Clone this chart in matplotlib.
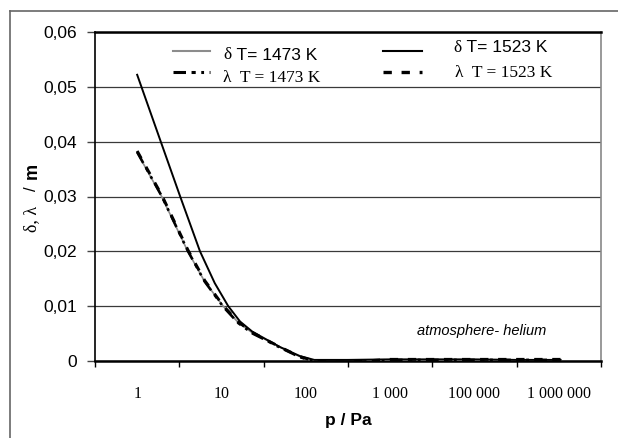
import matplotlib
matplotlib.use("Agg")
import matplotlib.pyplot as plt
from matplotlib.lines import Line2D
from matplotlib.ticker import FixedLocator, NullFormatter, FixedFormatter

plt.rcParams['font.family'] = ['Liberation Sans', 'DejaVu Sans']
plt.rcParams['lines.scale_dashes'] = False

# kategorie osi x (oś kategorii jak w Excelu, etykiety w środku przedziałów)
kategorie = ["1", "10", "100", "1 000", "100 000", "1 000 000"]

# krzywe (pozycja na osi kategorii, wartość w m)
u_1523 = [0.50, 0.78, 1.01, 1.245, 1.42, 1.58, 1.72, 1.87, 2.0, 2.2, 2.43, 2.6,
          3.0, 3.5, 4.0, 4.5, 5.0, 5.52]
delta_1523 = [0.0522, 0.040, 0.030, 0.020, 0.0142, 0.010, 0.0072, 0.0053, 0.0042,
              0.0025, 0.0009, 0.0002, 0.0002, 0.0003, 0.0003, 0.0003, 0.0002, 0.0002]

u_1473 = [0.50, 0.79, 1.10, 1.30, 1.52, 1.70, 1.87, 2.0, 2.2, 2.43, 2.6, 2.8,
          3.0, 3.3, 3.5, 4.0, 4.5, 5.0, 5.52]
delta_1473 = [0.0380, 0.030, 0.020, 0.0145, 0.010, 0.0070, 0.0051, 0.0041, 0.0025,
              0.0008, 0.0000, -0.0002, -0.0002, 0.0001, 0.0002, 0.0002, 0.0002, 0.0002, 0.0002]
lambda_1473 = [0.0381, 0.0301, 0.0201, 0.0145, 0.0099, 0.0069, 0.0050, 0.0040, 0.0024,
               0.0007, -0.0001, -0.0003, -0.0003, 0.0000, 0.0002, 0.0002, 0.0002, 0.0002, 0.0002]
lambda_1523 = [0.0383, 0.0303, 0.0203, 0.0147, 0.0101, 0.0071, 0.0052, 0.0041, 0.0025,
               0.0008, 0.0000, -0.0002, -0.0002, 0.0001, 0.0003, 0.0003, 0.0003, 0.0003, 0.0003]

W, H = 618, 438


def fx(px):
    return px / W


def fy(py):
    return 1 - py / H


fig = plt.figure(figsize=(W / 100, H / 100), dpi=100)
ax = fig.add_axes([fx(95), fy(361), fx(601) - fx(95), fy(32) - fy(361)])

# ramka obrazka (widoczna tylko z lewej i u góry)
fig.add_artist(Line2D([fx(10), fx(10)], [fy(11), 0], transform=fig.transFigure,
                      color='#666666', lw=1.2))
fig.add_artist(Line2D([fx(10), 1], [fy(11), fy(11)], transform=fig.transFigure,
                      color='#666666', lw=1.2))

# siatka
ax.set_axisbelow(True)
ax.grid(True, axis='y', color='#3a3a3a', lw=0.9)

# krzywe
ax.plot(u_1473, delta_1473, color='#8c8c8c', lw=1.2, zorder=3)
ax.plot(u_1473, lambda_1473, color='black', lw=1.9, dashes=(9, 4, 3, 4, 2, 4), zorder=4)
ax.plot(u_1523, delta_1523, color='black', lw=1.4, zorder=5)
ax.plot(u_1473, lambda_1523, color='black', lw=2.1, dashes=(6, 7), zorder=4)

ax.set_xlim(0, 6)
ax.set_ylim(0, 0.06)

# oś y
ax.set_yticks([0, 0.01, 0.02, 0.03, 0.04, 0.05, 0.06])
ax.set_yticklabels(["0", "0,01", "0,02", "0,03", "0,04", "0,05", "0,06"], fontsize=12.5)
ax.tick_params(axis='y', direction='out', length=6, width=1, pad=7, color='#444444')

# oś x: znaczniki na granicach kategorii, etykiety pośrodku
ax.xaxis.set_major_locator(FixedLocator(range(7)))
ax.xaxis.set_major_formatter(NullFormatter())
ax.xaxis.set_minor_locator(FixedLocator([i + 0.5 for i in range(6)]))
ax.xaxis.set_minor_formatter(FixedFormatter(kategorie))
ax.tick_params(axis='x', which='major', direction='out', length=4, width=1)
ax.tick_params(axis='x', which='minor', length=0, pad=18)
for lab in ax.xaxis.get_minorticklabels():
    lab.set_family('Liberation Serif')
    lab.set_fontsize(11.5)

for s in ['left', 'bottom', 'top']:
    ax.spines[s].set_color('black')
ax.spines['left'].set_linewidth(1.2)
ax.spines['bottom'].set_linewidth(1.8)
ax.spines['top'].set_linewidth(1.8)
ax.spines['right'].set_color('#888888')
ax.spines['right'].set_linewidth(1.2)

# opisy osi
ax.set_xlabel("p / Pa", fontsize=12.5, fontweight='bold')
ax.xaxis.set_label_coords(0.5, (361 - 420) / 329)
ax.xaxis.label.set_va('center')

fig.text(fx(32), fy(219), "δ, λ", rotation=90, ha='center', va='center',
         family='Liberation Serif', fontsize=13)
fig.text(fx(32), fy(189), "/", rotation=90, ha='center', va='center', fontsize=12)
fig.text(fx(32), fy(171), "m", rotation=90, ha='center', va='center',
         fontsize=13, fontweight='bold')

ax.text(4.58, 0.0055, "atmosphere- helium", style='italic', fontsize=10.5,
        ha='center', va='center')

# legenda rysowana ręcznie (dwie kolumny, mieszane czcionki)
def probka(x0, x1, y, **kw):
    fig.add_artist(Line2D([fx(x0), fx(x1)], [fy(y), fy(y)], transform=fig.transFigure, **kw))


probka(173, 210, 51, color='#8c8c8c', lw=1.5)
probka(173, 210, 72, color='black', lw=2.2, dashes=(9, 4, 3, 4, 2, 4))
probka(383, 422, 51, color='black', lw=1.5)
probka(383, 422, 72, color='black', lw=2.4, dashes=(6, 7))

fig.text(fx(223), fy(55), "δ", family='Liberation Serif', fontsize=12.5, va='center')
fig.text(fx(232), fy(55), " T= 1473 K", fontsize=12.5, va='center')
fig.text(fx(223), fy(78), "λ  T = 1473 K", family='Liberation Serif', fontsize=12.5,
         va='center')
fig.text(fx(453), fy(48), "δ", family='Liberation Serif', fontsize=12.5, va='center')
fig.text(fx(462), fy(48), " T= 1523 K", fontsize=12.5, va='center')
fig.text(fx(455), fy(73), "λ  T = 1523 K", family='Liberation Serif', fontsize=12.5,
         va='center')

fig.savefig("out.png", dpi=100)
